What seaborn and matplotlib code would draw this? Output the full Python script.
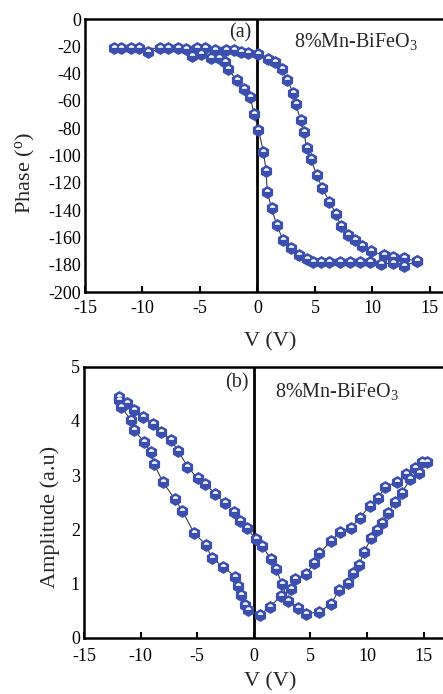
import numpy as np
import pandas as pd
import matplotlib
matplotlib.use("Agg")
import matplotlib.pyplot as plt
from matplotlib.path import Path
import seaborn as sns

sns.set_style("white")
plt.rcParams['font.family'] = ['Liberation Serif', 'DejaVu Serif']
plt.rcParams['mathtext.fontset'] = 'custom'
plt.rcParams['mathtext.rm'] = 'Liberation Serif'
plt.rcParams['mathtext.it'] = 'Liberation Serif:italic'
plt.rcParams['axes.unicode_minus'] = False

# ---- Panel (a): phase loop ----
phase_a_v = [-12.47, -10.98, -9.48, -7.76, -6.24, -5.66, -4.89, -4.08, -3.36, -2.84, -2.59,
             -1.78, -1.15, -0.63, -0.29, 0.09, 0.52, 0.75, 0.86, 1.24, 1.67, 2.24, 2.96,
             3.62, 4.34, 4.83, 5.49, 6.26, 7.21, 8.07, 8.94, 9.80, 10.72, 11.81, 12.73, 13.88]
phase_a_p = [-21.5, -21.5, -23.9, -21.5, -22.2, -27.1, -25.9, -28.8, -28.8, -31.2, -36.8,
             -44.6, -51.5, -56.8, -69.8, -81.2, -97.1, -111.0, -127.0, -138.5, -150.7, -162.0, -168.0,
             -172.7, -175.6, -178.0, -178.0, -178.0, -178.0, -178.0, -178.0, -178.0, -179.5, -178.8, -180.7, -177.6]

phase_b_v = [-11.84, -10.26, -8.45, -6.87, -5.29, -4.60, -3.71, -2.73, -2.01, -1.41, -0.78,
             0.03, 0.89, 1.52, 2.10, 2.59, 3.10, 3.33, 3.76, 4.05, 4.28, 4.63, 5.17, 5.63,
             6.26, 6.84, 7.27, 7.84, 8.48, 9.14, 9.91, 11.01, 11.81, 12.73, 13.88]
phase_b_p = [-21.5, -21.5, -21.5, -21.5, -21.5, -21.5, -22.7, -22.7, -22.7, -23.9, -24.6,
             -25.9, -29.3, -31.2, -36.8, -44.6, -53.9, -62.2, -73.9, -82.9, -94.6, -102.7, -114.1, -123.9,
             -133.7, -142.9, -151.9, -158.3, -162.2, -166.6, -170.2, -173.2, -174.4, -175.1, -177.6]

# ---- Panel (b): amplitude loop ----
amp_a_v = [-11.92, -11.18, -10.59, -9.79, -8.88, -8.17, -7.28, -6.69, -5.86, -4.97, -4.29,
           -3.43, -2.54, -1.78, -1.18, -0.59, 0.15, 0.74, 1.54, 1.98, 2.49, 3.02, 3.91, 4.59,
           5.77, 6.86, 7.51, 8.34, 8.79, 9.29, 9.73, 10.36, 10.86, 11.36, 11.89, 12.43, 13.08,
           13.82, 14.56, 15.30]
amp_a_a = [4.44, 4.33, 4.20, 4.07, 3.94, 3.79, 3.64, 3.45, 3.16, 2.94, 2.84,
           2.66, 2.48, 2.33, 2.15, 2.02, 1.83, 1.69, 1.45, 1.27, 0.99, 0.69, 0.56, 0.45,
           0.48, 0.63, 0.89, 1.01, 1.20, 1.35, 1.58, 1.84, 1.99, 2.12, 2.31, 2.50, 2.68,
           2.93, 3.04, 3.24]

amp_b_v = [14.85, 14.26, 13.46, 12.69, 11.60, 11.01, 10.27, 9.38, 8.55, 7.60, 6.80, 5.77,
           5.33, 4.64, 3.67, 3.31, 2.37, 1.39, 0.56, -0.53, -0.77, -1.12, -1.36, -1.66,
           -2.69, -3.73, -4.23, -5.27, -6.30, -6.98, -8.02, -8.82, -9.11, -9.70, -10.59,
           -10.89, -11.69, -11.92]
amp_b_a = [3.24, 3.14, 3.02, 2.88, 2.79, 2.58, 2.44, 2.22, 2.02, 1.96, 1.78, 1.56,
           1.38, 1.18, 1.09, 0.90, 0.77, 0.57, 0.43, 0.51, 0.61, 0.80, 0.95, 1.13,
           1.31, 1.48, 1.72, 1.93, 2.34, 2.56, 2.87, 3.21, 3.42, 3.62, 3.83,
           4.02, 4.26, 4.39]

x_ticks = [-15, -10, -5, 0, 5, 10, 15]
phase_ticks = [0, -20, -40, -60, -80, -100, -120, -140, -160, -180, -200]
amp_ticks = [0, 1, 2, 3, 4, 5]

BLUE = '#3a4fae'
LINE = '#3c3c3c'
MSIZE = 8.4
W, H = 443, 694

# white half-disc highlight on the upper part of each hexagon marker
_t = np.linspace(0, np.pi, 24)
_cap = np.column_stack([0.46 * np.cos(_t), 0.12 + 0.44 * np.sin(_t)])
_verts = np.vstack([[[0, -1], [0, 1]], _cap, [_cap[0]]])
_codes = [Path.MOVETO, Path.MOVETO, Path.MOVETO] + [Path.LINETO] * (len(_cap) - 1) + [Path.CLOSEPOLY]
CAP = Path(_verts, _codes)

fig = plt.figure(figsize=(W / 100, H / 100), dpi=100)
ax1 = fig.add_axes([85 / W, 1 - 292 / H, (W - 85) / W, 273 / H])
ax2 = fig.add_axes([84 / W, 1 - 638 / H, (W - 84) / W, 271.3 / H])


def draw_branch(ax, xs, ys):
    df = pd.DataFrame({'x': xs, 'y': ys})
    sns.lineplot(data=df, x='x', y='y', ax=ax, sort=False, estimator=None,
                 color=LINE, linewidth=0.8, zorder=2)
    sns.lineplot(data=df, x='x', y='y', ax=ax, sort=False, estimator=None,
                 linestyle='', marker='h', markersize=MSIZE, color=BLUE,
                 markerfacecolor=BLUE, markeredgecolor=BLUE, markeredgewidth=0.8, zorder=3)
    sns.lineplot(data=df, x='x', y='y', ax=ax, sort=False, estimator=None,
                 linestyle='', marker=CAP, markersize=MSIZE, color='white',
                 markerfacecolor='white', markeredgecolor='white', markeredgewidth=0, zorder=4)


draw_branch(ax1, phase_a_v, phase_a_p)
draw_branch(ax1, phase_b_v, phase_b_p)
draw_branch(ax2, amp_a_v, amp_a_a)
draw_branch(ax2, amp_b_v, amp_b_a)

ax1.set_xlim(-15, (W - 255.7) / 11.6)
ax1.set_ylim(-200, 0)
ax1.set_yticks(phase_ticks)
ax2.set_xlim(-15, (W - 254) / 11.31)
ax2.set_ylim(0, 5)
ax2.set_yticks(amp_ticks)

for ax, xpad in ((ax1, 5.5), (ax2, 7.5)):
    ax.set_xticks(x_ticks)
    ax.axvline(0, color='black', linewidth=2, zorder=1)
    for s in ('left', 'bottom', 'top'):
        ax.spines[s].set_color('black')
        ax.spines[s].set_linewidth(1.8)
    ax.spines['right'].set_visible(False)
    ax.tick_params(axis='x', direction='in', length=4, width=1.5, labelsize=13,
                   pad=xpad, bottom=True, colors='black')
    ax.tick_params(axis='y', direction='in', length=0, labelsize=13, pad=3, colors='black')
    ax.set_xlabel('V (V)', fontsize=16, va='center')

ax1.set_ylabel('Phase ($^{\\mathrm{o}}$)', fontsize=16, va='center')
ax2.set_ylabel('Amplitude (a.u)', fontsize=16, va='center')
ax1.xaxis.set_label_coords((270 - 85) / (W - 85), (292 - 341.7) / 273)
ax2.xaxis.set_label_coords((270 - 84) / (W - 84), (638 - 681.7) / 271.3)
ax1.yaxis.set_label_coords(-(85 - 25) / (W - 85), (292 - 173) / 273)
ax2.yaxis.set_label_coords(-(84 - 50) / (W - 84), (638 - 517) / 271.3)

ax1.text(-1.5, -10, '(a)', fontsize=14.5, ha='center', va='center')
ax1.text(3.2, -16.5, '8%Mn-BiFeO$_3$', fontsize=14.5, ha='left', va='center')
ax2.text(-1.53, 4.70, '(b)', fontsize=14.5, ha='center', va='center')
ax2.text(1.86, 4.54, '8%Mn-BiFeO$_3$', fontsize=14.5, ha='left', va='center')

fig.savefig('out.png', dpi=100)
